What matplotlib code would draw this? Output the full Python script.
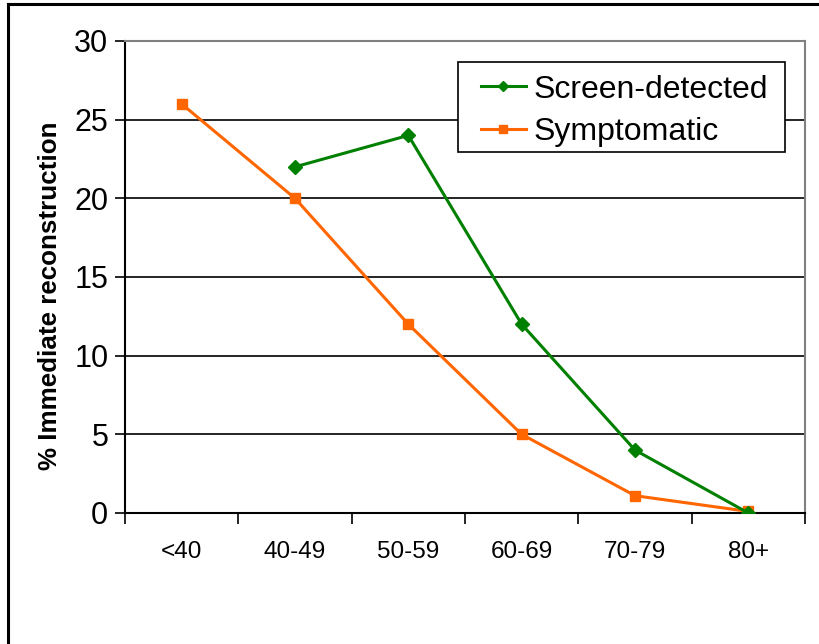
import matplotlib

matplotlib.use("Agg")
import matplotlib.pyplot as plt
import numpy as np
from matplotlib.lines import Line2D
from matplotlib.patches import Rectangle

plt.rcParams["font.family"] = ["Liberation Sans", "DejaVu Sans"]

AGE_GROUPS = ["<40", "40-49", "50-59", "60-69", "70-79", "80+"]
SCREEN_DETECTED = [np.nan, 22, 24, 12, 4, 0]
SYMPTOMATIC = [26, 20, 12, 5, 1.1, 0.1]
Y_TICKS = [0, 5, 10, 15, 20, 25, 30]

GREEN = "#008000"
ORANGE = "#FF6600"

W, H = 819, 644
fig = plt.figure(figsize=(W / 100, H / 100), dpi=100)
ax = fig.add_axes([125 / W, 1 - 513 / H, (805 - 125) / W, (513 - 41) / H])

x = np.arange(len(AGE_GROUPS))
ax.plot(x, SCREEN_DETECTED, color=GREEN, lw=2.2, marker="D", ms=7.5,
        label="Screen-detected", zorder=4)
ax.plot(x, SYMPTOMATIC, color=ORANGE, lw=2.2, marker="s", ms=7,
        label="Symptomatic", zorder=3)

ax.set_xlim(-0.5, len(AGE_GROUPS) - 0.5)
ax.set_ylim(0, 30)
ax.set_yticks(Y_TICKS)
ax.tick_params(axis="y", labelsize=22, length=7, width=1.2, direction="out", pad=5)
ax.set_xticks(np.arange(len(AGE_GROUPS) + 1) - 0.5)
ax.set_xticklabels([])
ax.set_xticks(x, minor=True)
ax.set_xticklabels(AGE_GROUPS, minor=True)
ax.tick_params(axis="x", which="major", length=8, width=1.2, direction="out")
ax.tick_params(axis="x", which="minor", length=0, labelsize=17.5, pad=20)

ax.yaxis.grid(True, color="black", lw=1.2)
ax.set_axisbelow(True)
for side in ("left", "bottom"):
    ax.spines[side].set_linewidth(1.5)
for side in ("top", "right"):
    ax.spines[side].set_color("#808080")
    ax.spines[side].set_linewidth(1.5)

ax.set_ylabel("% Immediate reconstruction", fontsize=18.7, fontweight="bold")
ax.yaxis.set_label_coords(-0.093, 0.46)

# legend: entries without frame, box drawn separately for wider side padding
handles = [
    Line2D([], [], color=GREEN, lw=2.2, marker="D", ms=5.5),
    Line2D([], [], color=ORANGE, lw=2.2, marker="s", ms=6),
]
leg = ax.legend(handles, ["Screen-detected", "Symptomatic"], loc="upper left",
                bbox_to_anchor=(481 / W, 1 - 74.6 / H), bbox_transform=fig.transFigure,
                fontsize=23, frameon=False, handlelength=1.4,
                handletextpad=0.25, borderpad=0, labelspacing=0.395,
                borderaxespad=0)
leg.set_zorder(6)
ax.add_patch(Rectangle((458 / W, 1 - 152 / H), (785 - 458) / W, 90 / H,
                       transform=fig.transFigure, facecolor="white",
                       edgecolor="black", lw=1.2, zorder=5, clip_on=False))

# frame lines along the top and left edges of the figure
fig.add_artist(Line2D([7.5 / W, 1], [1 - 4 / H, 1 - 4 / H], color="black", lw=2.2,
                      transform=fig.transFigure))
fig.add_artist(Line2D([7.5 / W, 7.5 / W], [0, 1 - 4 / H], color="black", lw=2.2,
                      transform=fig.transFigure))

fig.savefig("out.png", dpi=100)
